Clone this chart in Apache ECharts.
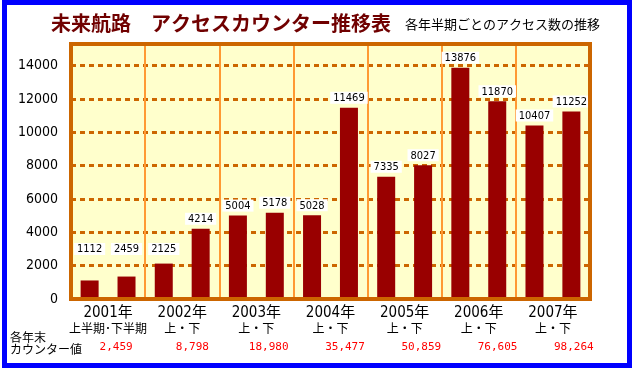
<!DOCTYPE html>
<html><head><meta charset="utf-8">
<script src="https://cdn.jsdelivr.net/npm/echarts@6/dist/echarts.min.js"></script>
<style>
html,body{margin:0;padding:0;background:#fff}
#wrap{position:relative;width:635px;height:370px}
#c{width:635px;height:370px}
#frame{position:absolute;left:2px;top:0;width:630px;height:368px;border:5px solid #0000ff;box-sizing:border-box;pointer-events:none}
</style>
</head><body><div id="wrap"><div id="c"></div><div id="frame"></div></div>
<script>
// ---- data ----
const years = ['2001', '2002', '2003', '2004', '2005', '2006', '2007'];
const halfLabels = ['上半期･下半期', '上・下', '上・下', '上・下', '上・下', '上・下', '上・下'];
const firstHalf = [1112, 2125, 5004, 5028, 7335, 13876, 10407];
const secondHalf = [1347, 4214, 5178, 11469, 8027, 11870, 11252];
const firstHalfLabels = ['1112', '2125', '5004', '5028', '7335', '13876', '10407'];
const secondHalfLabels = ['2459', '4214', '5178', '11469', '8027', '11870', '11252'];
const counterTotals = ['2,459', '8,798', '18,980', '35,477', '50,859', '76,605', '98,264'];
const yTicks = [0, 2000, 4000, 6000, 8000, 10000, 12000, 14000];
const titleText = '未来航路　アクセスカウンター推移表';
const subtitleText = '各年半期ごとのアクセス数の推移';
const rowHeader = '各年末\nカウンター値';

// ---- presentation ----
const NARROW = "'Liberation Sans Narrow','Arial Narrow','DejaVu Sans Condensed','Noto Sans CJK JP',sans-serif";
const CJK = "'Noto Sans CJK JP',sans-serif";
const LABEL_FLOOR = 2400; // labels of short bars sit no lower than this level
const BAR = '#990000';

const chart = echarts.init(document.getElementById('c'), null, {renderer: 'canvas'});

function liftOf(arr) { return arr.map(v => Math.max(0, LABEL_FLOOR - v)); }
const labelStyle = (texts) => ({
  show: true, position: 'top', distance: 4,
  formatter: p => texts[p.dataIndex],
  color: '#000', fontSize: 11, fontFamily: NARROW,
  backgroundColor: '#ffffff', padding: [1, 3, 0, 3], lineHeight: 11
});

const gridBox = {left: 71, right: 45, top: 44, bottom: 71};

chart.setOption({
  animation: false,
  backgroundColor: '#ffffff',
  title: [
    {text: titleText, left: 51, top: 13, padding: 0,
     textStyle: {fontSize: 20, fontWeight: 'bold', color: '#700000', fontFamily: CJK}},
    {text: subtitleText, left: 405, top: 18, padding: 0,
     textStyle: {fontSize: 13, fontWeight: 'normal', color: '#000', fontFamily: CJK}},
    {text: rowHeader, left: 10, top: 331, padding: 0,
     textStyle: {fontSize: 12, fontWeight: 'normal', color: '#000', fontFamily: CJK, lineHeight: 12}}
  ],
  grid: [
    Object.assign({show: true, backgroundColor: '#ffffcc', borderWidth: 0}, gridBox),
    {left: 78, right: 23, top: 44, bottom: 71, show: false},
    Object.assign({show: true, backgroundColor: 'transparent', borderColor: '#cc6600', borderWidth: 4, z: 5}, gridBox)
  ],
  xAxis: [
    {type: 'category', gridIndex: 0, data: years,
     axisLine: {show: false}, axisTick: {show: false},
     splitLine: {show: true, interval: 0, lineStyle: {color: '#ff9933', width: 2}},
     axisLabel: {
       margin: 7, interval: 0,
       formatter: (v, i) => '{y|' + v + '年}\n{h|' + halfLabels[i] + '}',
       rich: {
         y: {fontSize: 15, lineHeight: 15, color: '#000', fontFamily: NARROW},
         h: {fontSize: 12, lineHeight: 14, color: '#000', fontFamily: CJK}
       }
     }},
    {type: 'category', gridIndex: 1, data: counterTotals,
     axisLine: {show: false}, axisTick: {show: false}, splitLine: {show: false},
     axisLabel: {margin: 43, interval: 0, color: '#ff0000', fontSize: 11, lineHeight: 11,
                 fontFamily: "'DejaVu Sans Mono','Liberation Mono',monospace"}},
    {type: 'category', gridIndex: 2, data: years, show: false}
  ],
  yAxis: [
    {type: 'value', gridIndex: 0, min: yTicks[0], max: 15300, interval: yTicks[1] - yTicks[0],
     axisLine: {show: false}, axisTick: {show: false},
     axisLabel: {color: '#000', fontSize: 14, margin: 13, fontFamily: NARROW, showMaxLabel: false,
                 formatter: v => String(v)},
     splitLine: {show: true, lineStyle: {color: '#cc6600', width: 3, type: [5, 4]}}},
    {type: 'value', gridIndex: 1, min: 0, max: 1, show: false},
    {type: 'value', gridIndex: 2, min: 0, max: 1, show: false}
  ],
  series: [
    {type: 'bar', name: '上半期', xAxisIndex: 0, yAxisIndex: 0, stack: 'h1', data: firstHalf,
     barWidth: 18, barGap: '105%', itemStyle: {color: BAR}},
    {type: 'bar', name: '上半期ラベル', xAxisIndex: 0, yAxisIndex: 0, stack: 'h1', data: liftOf(firstHalf),
     barWidth: 18, barGap: '105%', silent: true, itemStyle: {color: 'rgba(0,0,0,0)'},
     label: labelStyle(firstHalfLabels)},
    {type: 'bar', name: '下半期', xAxisIndex: 0, yAxisIndex: 0, stack: 'h2', data: secondHalf,
     barWidth: 18, barGap: '105%', itemStyle: {color: BAR}},
    {type: 'bar', name: '下半期ラベル', xAxisIndex: 0, yAxisIndex: 0, stack: 'h2', data: liftOf(secondHalf),
     barWidth: 18, barGap: '105%', silent: true, itemStyle: {color: 'rgba(0,0,0,0)'},
     label: labelStyle(secondHalfLabels)}
  ]
});
</script>
</body></html>
